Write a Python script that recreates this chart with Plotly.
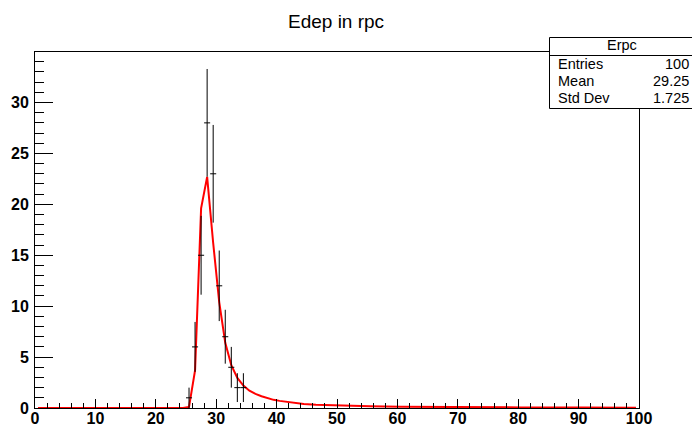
import numpy as np
import plotly.graph_objects as go

# Histogram data (bin centers, contents)
bin_centers = [25.5, 26.5, 27.5, 28.5, 29.5, 30.5, 31.5, 32.5, 33.5, 34.5]
counts = [1, 6, 15, 28, 23, 12, 7, 4, 2, 2]
errors = [float(np.sqrt(c)) for c in counts]
half_width = [0.5] * len(counts)

# Fit curve
fit_x = [0.5, 24.5, 25.5, 26.5, 27.5, 28.5, 29.5, 30.5, 31.5, 32.5, 33.5, 34.5,
         35.5, 36.5, 37.5, 38.5, 39.5, 40.5, 42.5, 44.5, 46.5, 48.5, 50.5, 55.5,
         60.5, 65.5, 70.5, 80.5, 90.5, 99.5]
fit_y = [0, 0, 0.1, 3.7, 19.6, 22.7, 16.2, 10.4, 6.4, 4.2, 2.95, 2.2,
         1.7, 1.38, 1.15, 0.97, 0.8, 0.7, 0.52, 0.4, 0.33, 0.28, 0.24, 0.17,
         0.13, 0.1, 0.08, 0.055, 0.04, 0.03]

x_ticks = [0, 10, 20, 30, 40, 50, 60, 70, 80, 90, 100]
y_ticks = [0, 5, 10, 15, 20, 25, 30]

stats_title = "Erpc"
stats_labels = ["Entries", "Mean", "Std Dev"]
stats_values = ["100", "29.25", "1.725"]

W, H = 692, 427
L, R, T, B = 35, 53, 52, 19
PW = W - L - R
PH = H - T - B

def px(x):
    return (x - L) / PW

def py(y):
    return (H - B - y) / PH

FONT = "Liberation Sans, Arial, sans-serif"

fig = go.Figure()
fig.add_trace(go.Scatter(
    x=fit_x, y=fit_y, mode="lines",
    line=dict(color="#ff0000", width=2),
    hoverinfo="skip", showlegend=False,
))
fig.add_trace(go.Scatter(
    x=bin_centers, y=counts, mode="markers",
    marker=dict(size=0.1, color="black", opacity=0),
    error_y=dict(type="data", array=errors, color="black", thickness=1, width=0),
    error_x=dict(type="data", array=half_width, color="black", thickness=1, width=0),
    showlegend=False,
))

fig.update_layout(
    width=W, height=H,
    margin=dict(l=L, r=R, t=T, b=B, pad=0, autoexpand=False),
    paper_bgcolor="white", plot_bgcolor="white",
    font=dict(family=FONT, color="black"),
    xaxis=dict(
        range=[0, 100], tickvals=x_ticks, ticktext=[str(v) for v in x_ticks],
        ticks="inside", ticklen=9, tickwidth=1, tickcolor="black",
        minor=dict(ticks="inside", ticklen=5, dtick=2, tickcolor="black", tickwidth=1),
        showgrid=False, zeroline=False, automargin=False,
        showline=True, linecolor="black", linewidth=1, mirror=True,
        tickfont=dict(family=FONT, size=16, weight="bold", color="black"),
        ticklabelstandoff=-4,
    ),
    yaxis=dict(
        range=[0, 34.96], tickvals=y_ticks, ticktext=[str(v) for v in y_ticks],
        ticks="inside", ticklen=18, tickwidth=1, tickcolor="black",
        minor=dict(ticks="inside", ticklen=9, dtick=1, tickcolor="black", tickwidth=1),
        showgrid=False, zeroline=False, automargin=False,
        showline=True, linecolor="black", linewidth=1, mirror=True,
        tickfont=dict(family=FONT, size=16, weight="bold", color="black"),
        ticklabelstandoff=2,
    ),
    showlegend=False,
)

shapes = [
    dict(type="rect", xref="paper", yref="paper",
         x0=px(549.5), x1=px(693), y0=py(37.5), y1=py(108.5),
         line=dict(color="black", width=1), fillcolor="white", layer="above"),
    dict(type="line", xref="paper", yref="paper",
         x0=px(549.5), x1=px(693), y0=py(55.5), y1=py(55.5),
         line=dict(color="black", width=1), layer="above"),
]
fig.update_layout(shapes=shapes)

ann = [
    dict(text="Edep in rpc", x=px(336), y=py(21.5), xref="paper", yref="paper",
         xanchor="center", yanchor="middle", showarrow=False,
         font=dict(family=FONT, size=19, color="black")),
    dict(text=stats_title, x=px(622), y=py(45.5), xref="paper", yref="paper",
         xanchor="center", yanchor="middle", showarrow=False,
         font=dict(family=FONT, size=14.5, color="black")),
]
row_y = [64, 81, 98]
for lab, val, yy in zip(stats_labels, stats_values, row_y):
    ann.append(dict(text=lab, x=px(556), y=py(yy), xref="paper", yref="paper",
                    xanchor="left", yanchor="middle", showarrow=False,
                    font=dict(family=FONT, size=14.5, color="black")))
    ann.append(dict(text=val, x=px(691), y=py(yy), xref="paper", yref="paper",
                    xanchor="right", yanchor="middle", showarrow=False,
                    font=dict(family=FONT, size=14.5, color="black")))
fig.update_layout(annotations=ann)

fig.write_html("out.html")
